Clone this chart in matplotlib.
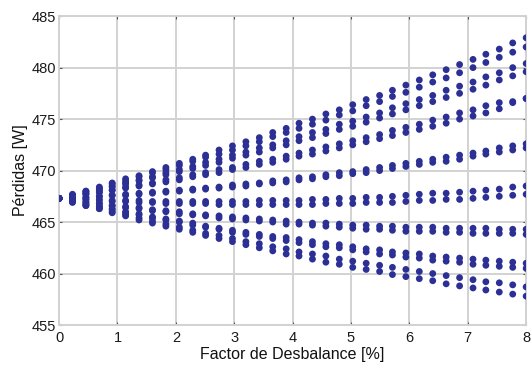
import matplotlib
matplotlib.use("Agg")
import matplotlib.pyplot as plt
from matplotlib import font_manager

# ---------------- data ----------------
x_vals = [0.0, 0.23, 0.46, 0.69, 0.91, 1.14, 1.37, 1.6, 1.83, 2.06, 2.29, 2.51,
          2.74, 2.97, 3.2, 3.43, 3.66, 3.89, 4.11, 4.34, 4.57, 4.8, 5.03, 5.26,
          5.49, 5.71, 5.94, 6.17, 6.4, 6.63, 6.86, 7.09, 7.31, 7.54, 7.77, 8.0]

band1_hi = [467.3, 467.7, 468.0, 468.4, 468.8, 469.2, 469.5, 469.9, 470.3, 470.7, 471.1, 471.5,
            472.0, 472.4, 472.8, 473.2, 473.7, 474.1, 474.6, 475.0, 475.5, 475.9, 476.4, 476.9,
            477.3, 477.8, 478.3, 478.8, 479.3, 479.8, 480.3, 480.8, 481.3, 481.8, 482.4, 482.9]
band1_lo = [467.3, 467.6, 468.0, 468.3, 468.7, 469.0, 469.4, 469.8, 470.1, 470.5, 470.9, 471.3,
            471.6, 472.0, 472.4, 472.8, 473.3, 473.7, 474.1, 474.5, 474.9, 475.4, 475.8, 476.3,
            476.7, 477.2, 477.6, 478.1, 478.6, 479.0, 479.5, 480.0, 480.5, 481.0, 481.5, 482.0]
band2_hi = [467.3, 467.6, 467.9, 468.2, 468.5, 468.8, 469.1, 469.4, 469.8, 470.1, 470.4, 470.8,
            471.1, 471.5, 471.8, 472.2, 472.5, 472.9, 473.3, 473.7, 474.0, 474.5, 474.8, 475.2,
            475.6, 476.1, 476.5, 476.9, 477.3, 477.8, 478.2, 478.6, 479.1, 479.5, 480.0, 480.4]
band2_lo = [467.3, 467.6, 467.8, 468.1, 468.4, 468.7, 469.0, 469.3, 469.6, 469.9, 470.2, 470.5,
            470.8, 471.2, 471.5, 471.8, 472.2, 472.5, 472.9, 473.2, 473.6, 474.0, 474.3, 474.7,
            475.1, 475.5, 475.9, 476.3, 476.7, 477.1, 477.5, 477.9, 478.3, 478.8, 479.2, 479.6]
band3_hi = [467.3, 467.5, 467.7, 467.9, 468.1, 468.4, 468.6, 468.8, 469.1, 469.3, 469.6, 469.8,
            470.1, 470.3, 470.6, 470.9, 471.1, 471.4, 471.7, 472.0, 472.3, 472.6, 472.9, 473.2,
            473.5, 473.9, 474.2, 474.5, 474.9, 475.2, 475.6, 475.9, 476.3, 476.6, 476.7, 477.0]
band3_lo = [467.3, 467.5, 467.7, 467.9, 468.1, 468.3, 468.5, 468.7, 468.9, 469.1, 469.4, 469.6,
            469.8, 470.1, 470.3, 470.6, 470.8, 471.1, 471.4, 471.6, 471.9, 472.2, 472.5, 472.8,
            473.1, 473.4, 473.7, 474.0, 474.3, 474.6, 475.0, 475.3, 475.6, 476.0, 476.6, 477.0]
band4_hi = [467.3, 467.4, 467.4, 467.5, 467.6, 467.7, 467.8, 467.9, 468.0, 468.1, 468.2, 468.3,
            468.4, 468.6, 468.7, 468.8, 469.0, 469.1, 469.3, 469.4, 469.6, 469.8, 469.9, 470.1,
            470.3, 470.5, 470.7, 470.9, 471.1, 471.3, 471.5, 471.7, 471.9, 472.2, 472.4, 472.6]
band4_lo = [467.3, 467.4, 467.4, 467.5, 467.6, 467.6, 467.7, 467.8, 467.9, 468.0, 468.1, 468.2,
            468.3, 468.4, 468.5, 468.7, 468.8, 468.9, 469.1, 469.2, 469.4, 469.5, 469.7, 469.8,
            470.0, 470.2, 470.4, 470.6, 470.8, 470.9, 471.1, 471.4, 471.6, 471.8, 472.0, 472.2]
band5_hi = [467.3, 467.2, 467.2, 467.2, 467.1, 467.1, 467.1, 467.0, 467.0, 467.0, 467.0, 467.0,
            467.0, 467.0, 467.0, 467.1, 467.1, 467.1, 467.1, 467.2, 467.2, 467.3, 467.3, 467.4,
            467.4, 467.5, 467.6, 467.7, 467.8, 467.8, 467.9, 468.0, 468.1, 468.2, 468.4, 468.5]
band5_lo = [467.3, 467.2, 467.2, 467.1, 467.0, 467.0, 466.9, 466.9, 466.8, 466.8, 466.8, 466.8,
            466.7, 466.7, 466.7, 466.7, 466.7, 466.7, 466.7, 466.7, 466.8, 466.8, 466.8, 466.9,
            466.9, 466.9, 467.0, 467.1, 467.1, 467.2, 467.2, 467.3, 467.4, 467.5, 467.6, 467.7]
band6_hi = [467.3, 467.1, 467.0, 466.8, 466.6, 466.5, 466.4, 466.2, 466.1, 466.0, 465.8, 465.7,
            465.6, 465.5, 465.4, 465.3, 465.2, 465.1, 465.0, 464.9, 464.9, 464.8, 464.7, 464.7,
            464.6, 464.6, 464.5, 464.5, 464.5, 464.4, 464.4, 464.4, 464.4, 464.3, 464.3, 464.3]
band6_lo = [467.3, 467.1, 466.9, 466.8, 466.6, 466.4, 466.3, 466.1, 466.0, 465.8, 465.7, 465.6,
            465.4, 465.3, 465.2, 465.1, 465.0, 464.8, 464.8, 464.7, 464.6, 464.5, 464.4, 464.3,
            464.3, 464.2, 464.1, 464.1, 464.1, 464.0, 464.0, 463.9, 463.9, 463.9, 463.9, 463.8]
band7_hi = [467.3, 467.0, 466.8, 466.5, 466.3, 466.0, 465.8, 465.5, 465.3, 465.1, 464.9, 464.6,
            464.4, 464.2, 464.0, 463.8, 463.6, 463.5, 463.3, 463.1, 462.9, 462.8, 462.6, 462.4,
            462.3, 462.1, 462.0, 461.9, 461.7, 461.6, 461.5, 461.4, 461.3, 461.2, 461.1, 461.0]
band7_lo = [467.3, 467.0, 466.7, 466.5, 466.2, 465.9, 465.7, 465.4, 465.2, 465.0, 464.7, 464.5,
            464.3, 464.0, 463.8, 463.6, 463.4, 463.2, 463.0, 462.8, 462.6, 462.5, 462.3, 462.1,
            461.9, 461.8, 461.6, 461.5, 461.3, 461.2, 461.1, 460.9, 460.8, 460.7, 460.6, 460.5]
band8_hi = [467.3, 467.0, 466.6, 466.3, 466.0, 465.7, 465.4, 465.1, 464.8, 464.5, 464.2, 463.9,
            463.7, 463.4, 463.1, 462.9, 462.6, 462.4, 462.1, 461.9, 461.7, 461.4, 461.2, 461.0,
            460.8, 460.6, 460.4, 460.2, 460.0, 459.8, 459.6, 459.4, 459.2, 459.1, 458.9, 458.7]
band8_lo = [467.3, 466.9, 466.6, 466.3, 465.9, 465.6, 465.2, 464.9, 464.6, 464.3, 464.0, 463.7,
            463.4, 463.1, 462.8, 462.5, 462.2, 461.9, 461.7, 461.4, 461.1, 460.9, 460.6, 460.4,
            460.2, 459.9, 459.7, 459.5, 459.3, 459.0, 458.8, 458.6, 458.4, 458.2, 458.0, 457.8]

x_ticks = [0, 1, 2, 3, 4, 5, 6, 7, 8]
y_ticks = [455, 460, 465, 470, 475, 480, 485]
x_label = "Factor de Desbalance [%]"
y_label = "Pérdidas [W]"

# ---------------- plotting ----------------
installed = {f.name for f in font_manager.fontManager.ttflist}
fam = ["Liberation Sans Narrow"] if "Liberation Sans Narrow" in installed else ["Liberation Sans"]
plt.rcParams["font.family"] = fam + ["DejaVu Sans"]

fig = plt.figure(figsize=(5.32, 3.67), dpi=100)
ax = fig.add_axes([0.111, 0.1144, 0.878, 0.8416])

all_series = [band1_hi, band1_lo, band2_hi, band2_lo, band3_hi, band3_lo, band4_hi, band4_lo,
              band5_hi, band5_lo, band6_hi, band6_lo, band7_hi, band7_lo, band8_hi, band8_lo]
dot_color = "#2c3095"
for ys in all_series:
    ax.scatter(x_vals, ys, s=24, color=dot_color, edgecolors="none", zorder=3)

ax.set_xlim(0, 8)
ax.set_ylim(455, 485)
ax.set_xticks(x_ticks)
ax.set_yticks(y_ticks)
ax.grid(True, color="#d2d2d2", linewidth=1.4, zorder=0)
for sp in ax.spines.values():
    sp.set_color("#d2d2d2")
    sp.set_linewidth(1.4)
ax.tick_params(direction="in", length=2.5, width=0.8, color="#555555",
               top=True, right=True, labelsize=10.5, labelcolor="#1a1a1a")
ax.tick_params(axis="x", pad=4)
ax.tick_params(axis="y", pad=2)
ax.set_xlabel(x_label, fontsize=11.5, color="#111111", labelpad=2)
ax.set_ylabel(y_label, fontsize=11.5, color="#111111", labelpad=3)

fig.savefig("out.png", dpi=100)
